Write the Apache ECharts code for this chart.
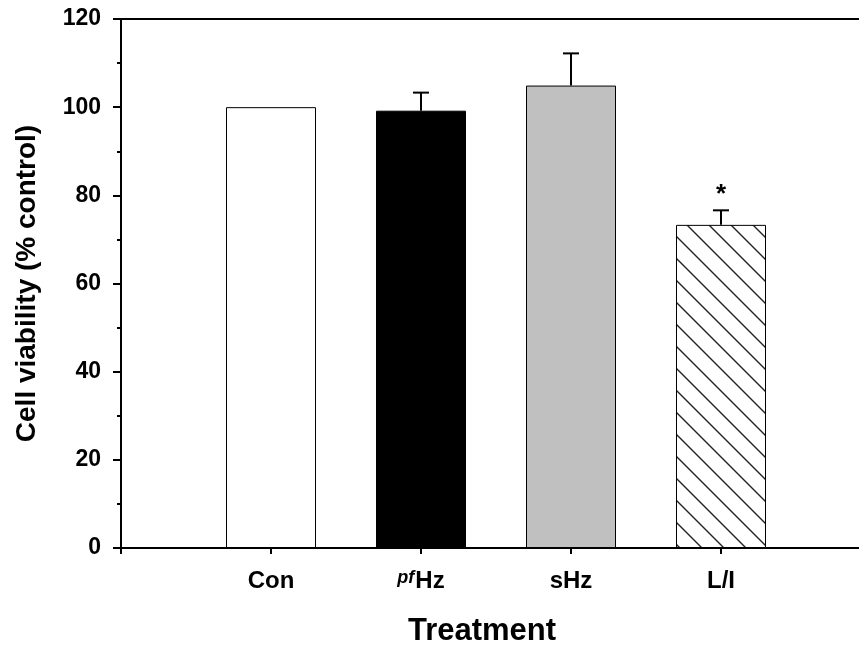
<!DOCTYPE html>
<html>
<head>
<meta charset="utf-8">
<script src="https://cdn.jsdelivr.net/npm/echarts@6/dist/echarts.min.js"></script>
<style>
  html, body { margin: 0; padding: 0; background: #fff; }
  #chart { width: 859px; height: 646px; }
</style>
</head>
<body>
<div id="chart"></div>
<script>
// blank slots at both ends keep the axis frame as in the figure
const categories = ['', 'Con', 'pfHz', 'sHz', 'L/I', '']
const viability = [null, 100, 99.2, 104.9, 73.3, null]
const errorTop = [null, null, 103.3, 112.2, 76.6, null]
const marks = ['', '', '', '', '*', '']
const yTicks = [0, 20, 40, 60, 80, 100, 120]

// hatch fill for L/I
function hatch() {
  const s = 22
  const c = document.createElement('canvas')
  c.width = s
  c.height = s
  const ctx = c.getContext('2d')
  ctx.fillStyle = '#fff'
  ctx.fillRect(0, 0, s, s)
  ctx.strokeStyle = '#222'
  ctx.lineWidth = 1.4
  ctx.beginPath()
  ctx.moveTo(-2, -2); ctx.lineTo(s + 2, s + 2)
  ctx.moveTo(-2, s - 2); ctx.lineTo(2, s + 2)
  ctx.moveTo(s - 2, -2); ctx.lineTo(s + 2, 2)
  ctx.stroke()
  return c
}

const fills = ['#fff', '#fff', '#000', '#c0c0c0', { image: hatch(), repeat: 'repeat' }, '#fff']

const chart = echarts.init(document.getElementById('chart'))
const font = 'Liberation Sans, Arial, sans-serif'

const options = {
  animation: false,
  grid: {
    show: true,
    left: 121,
    top: 19,
    right: -12,
    bottom: 98,
    outerBoundsMode: 'none',
    containLabel: false,
    borderColor: '#000',
    borderWidth: 2,
    backgroundColor: 'transparent'
  },
  xAxis: {
    type: 'category',
    data: categories,
    boundaryGap: false,
    name: 'Treatment',
    nameLocation: 'middle',
    nameGap: 68,
    nameTextStyle: { fontFamily: font, fontWeight: 'bold', fontSize: 31, color: '#000', padding: [0, 28, 0, 0] },
    axisLine: { lineStyle: { color: '#000', width: 2 } },
    axisTick: { length: 6, interval: 0, lineStyle: { color: '#000', width: 2 } },
    axisLabel: {
      interval: 0,
      margin: 21,
      fontFamily: font,
      fontWeight: 'bold',
      fontSize: 24,
      color: '#000',
      formatter: function(v) {
        return v === 'pfHz' ? '{it|pf}Hz' : v
      },
      rich: {
        it: { fontFamily: font, fontStyle: 'italic', fontSize: 18, color: '#000', verticalAlign: 'top', padding: [0, 1, 4, 0] }
      }
    },
    splitLine: { show: false }
  },
  yAxis: {
    type: 'value',
    min: 0,
    max: 120,
    interval: 20,
    name: 'Cell viability (% control)',
    nameLocation: 'middle',
    nameGap: 80,
    nameTextStyle: { fontFamily: font, fontWeight: 'bold', fontSize: 28, color: '#000' },
    axisLine: { show: true, lineStyle: { color: '#000', width: 2 } },
    axisTick: { show: true, length: 8, lineStyle: { color: '#000', width: 2 } },
    minorTick: { show: true, splitNumber: 2, length: 4, lineStyle: { color: '#000', width: 2 } },
    axisLabel: {
      margin: 20,
      fontFamily: font,
      fontWeight: 'bold',
      fontSize: 23,
      color: '#000',
      formatter: function(v) {
        return yTicks.indexOf(v) >= 0 ? String(v) : ''
      }
    },
    splitLine: { show: false }
  },
  series: [
    {
      type: 'bar',
      barWidth: 90,
      data: viability.map(function(v, i) {
        return {
          value: v,
          itemStyle: { color: fills[i], borderColor: '#000', borderWidth: 1 }
        }
      }),
      z: 2
    },
    {
      type: 'custom',
      data: categories.map(function(c, i) {
        return [i, viability[i], errorTop[i]]
      }),
      renderItem: function(params, api) {
        const i = api.value(0)
        if (errorTop[i] == null) return null
        const base = api.coord([i, api.value(1)])
        const top = api.coord([i, api.value(2)])
        const children = [
          {
            type: 'line',
            shape: { x1: base[0], y1: base[1], x2: top[0], y2: top[1] },
            style: { stroke: '#000', lineWidth: 2 }
          },
          {
            type: 'line',
            shape: { x1: top[0] - 8, y1: top[1], x2: top[0] + 8, y2: top[1] },
            style: { stroke: '#000', lineWidth: 2 }
          }
        ]
        if (marks[i]) {
          children.push({
            type: 'text',
            style: {
              text: marks[i],
              x: top[0],
              y: top[1] - 2,
              align: 'center',
              verticalAlign: 'bottom',
              fontFamily: font,
              fontWeight: 'bold',
              fontSize: 26,
              fill: '#000'
            }
          })
        }
        return { type: 'group', children: children }
      },
      z: 3
    }
  ]
}

chart.setOption(options)
</script>
</body>
</html>
